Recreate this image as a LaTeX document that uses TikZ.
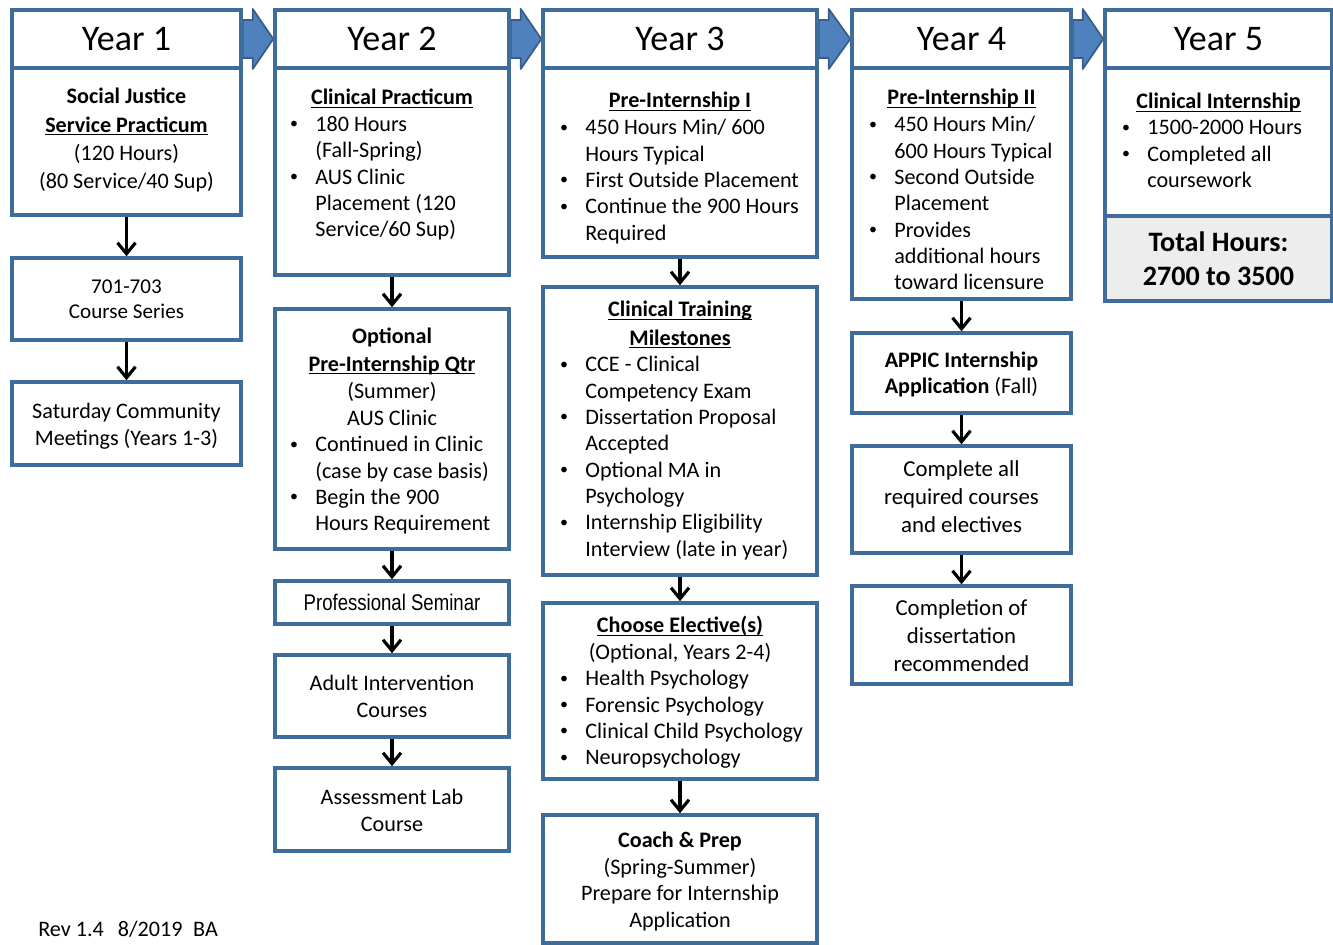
\documentclass[tikz,border=0pt]{standalone}
\usepackage{fontspec}
\setmainfont{Carlito}
\newfontfamily\narrowfont[FakeStretch=0.82]{Liberation Sans}
\usepackage{graphicx}
\usepackage{xcolor}
\usepackage{tikz}
\usetikzlibrary{arrows.meta,fit,calc}

\definecolor{boxblue}{HTML}{3F6D9A}
\definecolor{arrowblue}{HTML}{4F81BD}
\definecolor{arrowedge}{HTML}{385D8A}
\definecolor{totalgray}{HTML}{EDEDED}

\pgfdeclarelayer{background}
\pgfsetlayers{background,main}

\newsavebox{\ulbox}
\newcommand{\ulhead}[1]{\sbox{\ulbox}{\textbf{#1}}\rlap{\rule[-1.7pt]{\wd\ulbox}{0.75pt}}\usebox{\ulbox}}
\newcommand{\bul}{\makebox[0.52cm][l]{\hspace{0.5pt}\raisebox{0.12em}{\scalebox{0.72}{\textbullet}}}}
\newcommand{\ind}{\hspace*{0.52cm}}

\begin{document}
\begin{tikzpicture}[x=0.02cm, y=-0.02cm,
        box/.style={draw=boxblue, line width=2pt, inner sep=0pt, fill=white},
        hdr/.style={inner sep=0pt, font=\fontsize{20.5}{24}\selectfont},
        txt/.style={inner sep=0pt, anchor=north, align=center, yshift=-0.6pt, font=\fontsize{12.6}{15}\selectfont},
        list/.style={inner sep=0pt, anchor=north west, align=left, yshift=-0.6pt, font=\fontsize{12.6}{15}\selectfont},
        down/.style={-{Straight Barb[length=2.2mm,width=3.6mm]}, line width=1.8pt},
        blockarrow/.style={fill=arrowblue, draw=arrowedge, line width=1pt, line join=round}]

    \useasboundingbox (0,0) rectangle (1333,945);

    % Year 1
    \node[box, fit={(12,10) (241,68)}] (h1) {};
    \node[box, fit={(12,68) (241,215)}] (b1) {};
    \node[box, fit={(12,258) (241,340)}] (c701) {};
    \node[box, fit={(12,382) (241,465)}] (sat) {};

    \node[hdr] (y1) at (h1.center) {Year 1};
    \node[txt, font=\fontsize{12.6}{16}\selectfont] (t1) at (126.5,87)
        {\textbf{Social Justice}\\ \ulhead{Service Practicum}\\ (120 Hours)\\ (80 Service/40 Sup)};
    \node[txt, font=\fontsize{12}{14.2}\selectfont] (t701) at (126.5,278) {701-703\\ Course Series};
    \node[txt] (tsat) at (126.5,402) {Saturday Community\\ Meetings (Years 1-3)};

    % Year 2
    \node[box, fit={(275,10) (509,68)}] (h2) {};
    \node[box, fit={(275,68) (509,275)}] (b2) {};
    \node[box, fit={(275,309) (509,549)}] (opt) {};
    \node[box, fit={(275,581) (509,624)}] (sem) {};
    \node[box, fit={(275,655) (509,737)}] (adult) {};
    \node[box, fit={(275,768) (509,851)}] (assess) {};

    \node[hdr] (y2) at (h2.center) {Year 2};
    \node[txt] (t2) at (392,88) {\ulhead{Clinical Practicum}};
    \node[list] (l2) at (289,115)
        {\bul 180 Hours\\ \ind(Fall-Spring)\\ \bul AUS Clinic\\ \ind Placement (120\\ \ind Service/60 Sup)};
    \node[txt, font=\fontsize{12.6}{15.5}\selectfont] (topt) at (392,327)
        {\textbf{Optional}\\ \ulhead{Pre-Internship Qtr}\\ (Summer)\\ AUS Clinic};
    \node[list] (lopt) at (289,435)
        {\bul Continued in Clinic\\ \ind(case by case basis)\\ \bul Begin the 900\\ \ind Hours Requirement};
    \node[inner sep=0pt, font=\narrowfont\fontsize{12.9}{15}\selectfont] (tsem) at (sem.center) {Professional Seminar};
    \node[txt] (tadult) at (392,674) {Adult Intervention\\ Courses};
    \node[txt] (tassess) at (392,788) {Assessment Lab\\ Course};

    % Year 3
    \node[box, fit={(543,10) (817,68)}] (h3) {};
    \node[box, fit={(543,68) (817,257)}] (b3) {};
    \node[box, fit={(543,287) (817,575)}] (mile) {};
    \node[box, fit={(543,603) (817,779)}] (elec) {};
    \node[box, fit={(543,815) (817,943)}] (coach) {};

    \node[hdr] (y3) at (h3.center) {Year 3};
    \node[txt] (t3) at (680,91) {\ulhead{Pre-Internship I}};
    \node[list] (l3) at (559,118)
        {\bul 450 Hours Min/ 600\\ \ind Hours Typical\\ \bul First Outside Placement\\ \bul Continue the 900 Hours\\ \ind Required};
    \node[txt, font=\fontsize{12.6}{16}\selectfont] (tmile) at (680,300)
        {\ulhead{Clinical Training}\\ \ulhead{Milestones}};
    \node[list] (lmile) at (559,355)
        {\bul CCE - Clinical\\ \ind Competency Exam\\ \bul Dissertation Proposal\\ \ind Accepted\\
         \bul Optional MA in\\ \ind Psychology\\ \bul Internship Eligibility\\ \ind Interview (late in year)};
    \node[txt] (telec) at (680,615) {\ulhead{Choose Elective(s)}\\ (Optional, Years 2-4)};
    \node[list] (lelec) at (559,669)
        {\bul Health Psychology\\ \bul Forensic Psychology\\ \bul Clinical Child Psychology\\ \bul Neuropsychology};
    \node[txt] (tcoach) at (680,831)
        {\textbf{Coach \& Prep}\\ (Spring-Summer)\\ Prepare for Internship\\ Application};

    % Year 4
    \node[box, fit={(852,10) (1071,68)}] (h4) {};
    \node[box, fit={(852,68) (1071,299)}] (b4) {};
    \node[box, fit={(852,333) (1071,413)}] (appic) {};
    \node[box, fit={(852,446) (1071,553)}] (compl) {};
    \node[box, fit={(852,586) (1071,684)}] (diss) {};

    \node[hdr] (y4) at (h4.center) {Year 4};
    \node[txt] (t4) at (961.5,88) {\ulhead{Pre-Internship II}};
    \node[list] (l4) at (868,115)
        {\bul 450 Hours Min/\\ \ind 600 Hours Typical\\ \bul Second Outside\\ \ind Placement\\
         \bul Provides\\ \ind additional hours\\ \ind toward licensure};
    \node[txt, font=\fontsize{12.6}{14.7}\selectfont] (tappic) at (961.5,351)
        {\textbf{APPIC Internship}\\ \textbf{Application} (Fall)};
    \node[txt, font=\fontsize{13}{16}\selectfont] (tcompl) at (961.5,459)
        {Complete all\\ required courses\\ and electives};
    \node[txt, font=\fontsize{13}{16}\selectfont] (tdiss) at (961.5,598)
        {Completion of\\ dissertation\\ recommended};

    % Year 5
    \node[box, fit={(1105,10) (1332,68)}] (h5) {};
    \node[box, fit={(1105,68) (1332,216)}] (b5) {};
    \node[box, fill=totalgray, fit={(1105,216) (1332,301)}] (total) {};

    \node[hdr] (y5) at (h5.center) {Year 5};
    \node[txt] (t5) at (1218.5,92) {\ulhead{Clinical Internship}};
    \node[list] (l5) at (1121,119)
        {\bul 1500-2000 Hours\\ \bul Completed all\\ \ind coursework};
    \node[inner sep=0pt, align=center, font=\fontsize{16}{19.3}\selectfont] (ttotal) at (total.center)
        {\textbf{Total Hours:}\\ \textbf{2700 to 3500}};

    \node[anchor=west, inner sep=0pt, font=\fontsize{12.6}{15}\selectfont] (rev) at (38,929)
        {Rev 1.4\hspace{8pt}8/2019\hspace{6pt}BA};

    % connectors
    \foreach \a/\b in {b1/c701, c701/sat, b2/opt, opt/sem, sem/adult, adult/assess,
                       b3/mile, mile/elec, elec/coach, b4/appic, appic/compl, compl/diss}
        \draw[down] (\a.south) -- (\b.north);

    \begin{pgfonlayer}{background}
        \foreach \a/\b in {h1/h2, h2/h3, h3/h4, h4/h5}
            \draw[blockarrow] ($(\a.east)+(0,-19)$) -- ++(10,0) -- ++(0,-11) -- (\b.west)
                -- ($(\a.east)+(10,30)$) -- ++(0,-11) -- ($(\a.east)+(0,19)$) -- cycle;
    \end{pgfonlayer}
\end{tikzpicture}
\end{document}
